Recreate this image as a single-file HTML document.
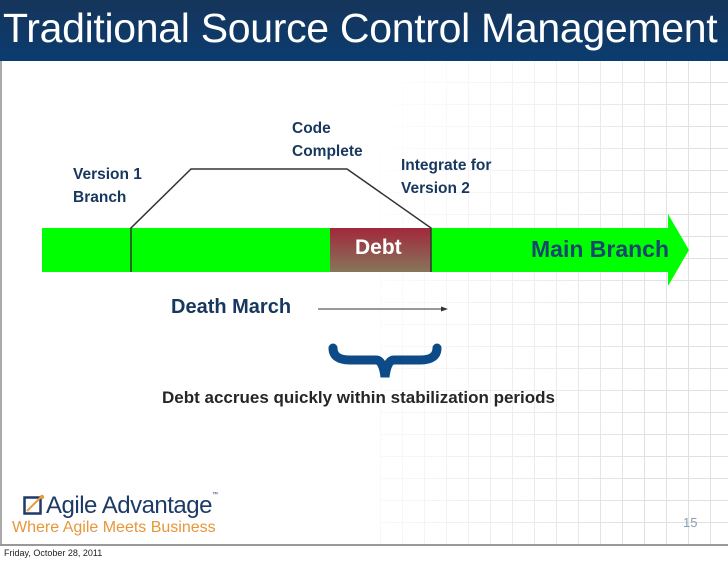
<!DOCTYPE html>
<html><head><meta charset="utf-8"><style>
html,body{margin:0;padding:0;width:728px;height:561px;overflow:hidden;background:#fff;font-family:"Liberation Sans",sans-serif;}
.grid{position:absolute;left:380px;top:60px;width:348px;height:486px;
background-image:linear-gradient(#e0e0e0 1px,transparent 1px),linear-gradient(90deg,#e0e0e0 1px,transparent 1px);
background-size:22px 22px;
-webkit-mask-image:linear-gradient(100deg,transparent 0%,rgba(0,0,0,.5) 40%,#000 80%);
mask-image:linear-gradient(100deg,transparent 0%,rgba(0,0,0,.5) 40%,#000 80%);}
.t{position:absolute;white-space:nowrap;}
.lbl{color:#17375e;font-weight:bold;font-size:15.5px;line-height:23px;}
</style></head><body>
<div class="grid"></div>
<div style="position:absolute;left:0;top:0;width:728px;height:61px;background:linear-gradient(#16355a,#0b3c70);"></div>
<div class="t" style="left:3px;top:5px;color:#fff;font-size:41px;letter-spacing:-0.3px;">Traditional Source Control Management</div>
<div style="position:absolute;left:0;top:61px;width:2px;height:485px;background:#aaa;"></div>
<div style="position:absolute;left:0;top:544px;width:728px;height:2px;background:#999;"></div>

<svg width="728" height="561" style="position:absolute;left:0;top:0">
<defs><linearGradient id="dg" x1="0" y1="0" x2="0" y2="1"><stop offset="0" stop-color="#a2283c"/><stop offset="1" stop-color="#86765a"/></linearGradient></defs>
<polygon points="42,228 668,228 668,214 689,250 668,286 668,272 42,272" fill="#00ff00"/>
<rect x="330" y="228" width="101" height="44" fill="url(#dg)"/>
<polyline points="131,272 131,228 191,169 347,169 431,228 431,272" fill="none" stroke="#333" stroke-width="1.5"/>
<line x1="318" y1="309" x2="444" y2="309" stroke="#333" stroke-width="1"/>
<polygon points="448,309 441,306.5 441,311.5" fill="#333"/>
<path d="M333,348 Q333,360 350,360 L376,360 Q383,360 385,377 Q387,360 394,360 L420,360 Q437,360 437,348" fill="none" stroke="#0c4a88" stroke-width="9" stroke-linecap="round"/>
</svg>

<div class="t" style="left:355px;top:236px;color:#fff;font-weight:bold;font-size:21px;">Debt</div>
<div class="t" style="left:531px;top:236px;color:#17466e;font-weight:bold;font-size:23px;">Main Branch</div>
<div class="t lbl" style="left:292px;top:117px;">Code<br>Complete</div>
<div class="t lbl" style="left:73px;top:163px;">Version 1<br>Branch</div>
<div class="t lbl" style="left:401px;top:154px;">Integrate for<br>Version 2</div>
<div class="t" style="left:171px;top:296px;color:#17375e;font-weight:bold;font-size:20px;">Death March</div>
<div class="t" style="left:162px;top:388px;color:#262626;font-weight:bold;font-size:17px;">Debt accrues quickly within stabilization periods</div>

<svg width="22" height="22" style="position:absolute;left:23px;top:494px">
<rect x="1.5" y="3.5" width="16" height="16" fill="none" stroke="#1e3a66" stroke-width="2.5"/>
<line x1="4" y1="17" x2="18" y2="3" stroke="#e89a3c" stroke-width="2"/>
<circle cx="19" cy="3" r="2.2" fill="#e89a3c"/>
</svg>
<div class="t" style="left:46px;top:492px;color:#1e3a66;font-size:24px;letter-spacing:-0.5px;">Agile Advantage<span style="font-size:6px;vertical-align:top;">™</span></div>
<div class="t" style="left:12px;top:519px;color:#e8963a;font-size:16px;">Where Agile Meets Business</div>
<div class="t" style="left:683px;top:515px;color:#8aa0b4;font-size:13px;">15</div>
<div class="t" style="left:4px;top:548px;color:#222;font-size:9px;">Friday, October 28, 2011</div>
</body></html>
